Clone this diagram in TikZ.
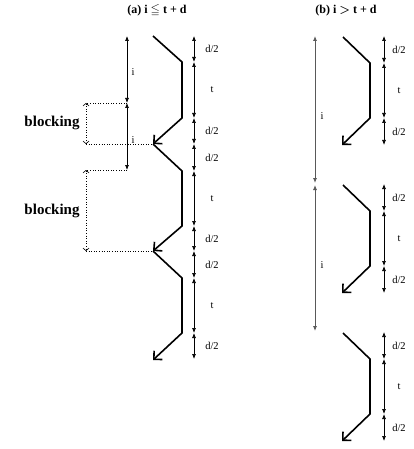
\documentclass[tikz,border=0pt]{standalone}
\usepackage{amsmath,amssymb}
\usepackage{fontspec}
\setmainfont{Liberation Serif}
\usetikzlibrary{arrows.meta}
\begin{document}
\begin{tikzpicture}[x=1pt,y=-1pt,
  zig/.style={line width=1.6pt,line join=miter,-{Straight Barb[length=6pt,width=12pt,line width=1.6pt]}},
  dimline/.style={line width=0.7pt,{Latex[length=5pt,width=4pt]}-{Latex[length=5pt,width=4pt]}},
  ilinea/.style={line width=0.7pt,{Latex[length=5pt,width=4pt]}-{Latex[length=5pt,width=4pt]}},
  ilineb/.style={line width=0.8pt,black!65,{Latex[length=5pt,width=4pt]}-{Latex[length=5pt,width=4pt]}},
  dots/.style={line width=0.6pt,dotted},
  dotarrow/.style={line width=0.6pt,dotted,{Straight Barb[length=2.5pt,width=6pt]}-{Straight Barb[length=2.5pt,width=6pt]}},
  lab/.style={font=\fontsize{10.5}{11}\selectfont,inner sep=0pt},
  block/.style={font=\fontsize{15}{16}\selectfont\bfseries,inner sep=0pt},
  ttl/.style={font=\fontsize{12}{13}\selectfont\bfseries,inner sep=0pt}]
\useasboundingbox (0,0) rectangle (413,449);
% titles
\node[ttl] (ta) at (157,11) {(a) i $\boldsymbol{\leqq}$ t + d};
\node[ttl] (tb) at (346,11) {(b) i $\boldsymbol{>}$ t + d};
% ---------- panel a ----------
\coordinate (a0) at (153,36);
\coordinate (a1) at (182,62);
\coordinate (a2) at (182,118);
\coordinate (a3) at (153,144);
\coordinate (a4) at (182,171);
\coordinate (a5) at (182,226);
\coordinate (a6) at (153,251);
\coordinate (a7) at (182,278);
\coordinate (a8) at (182,333);
\coordinate (a9) at (153,360);
\draw[zig] (a0) -- (a1) -- (a2) -- (a3);
\draw[zig] (a3) -- (a4) -- (a5) -- (a6);
\draw[zig] (a6) -- (a7) -- (a8) -- (a9);
% dimension lines a
\foreach \ya/\yb/\t [count=\k] in {36/62/d\slash 2,62/118/t,118/144/d\slash 2,144/171/d\slash 2,171/226/t,226/251/d\slash 2,251/278/d\slash 2,278/333/t,333/359/d\slash 2}{
  \coordinate (da\k s) at (194,\ya);
  \coordinate (da\k e) at (194,\yb);
  \draw[dimline] (da\k s) -- (da\k e);
  \node[lab] (lda\k) at (212,{(\ya+\yb)/2}) {\t};
}
% i arrows a
\coordinate (ia0) at (127,36);
\coordinate (ia1) at (127,103);
\coordinate (ia2) at (127,170);
\draw[ilinea] (ia0) -- (ia1);
\draw[ilinea] (ia1) -- (ia2);
\node[lab] (lia1) at (133,72) {i};
\node[lab] (lia2) at (133,140) {i};
% blocking 1
\coordinate (b1t) at (86,103);
\coordinate (b1b) at (86,144);
\draw[dots] (ia1) -- (b1t);
\draw[dots] (b1b) -- (a3);
\draw[dotarrow] (b1t) -- (b1b);
\node[block] (bl1) at (52,123) {blocking};
% blocking 2
\coordinate (b2t) at (86,170);
\coordinate (b2b) at (86,251);
\draw[dots] (ia2) -- (b2t);
\draw[dots] (b2b) -- (a6);
\draw[dotarrow] (b2t) -- (b2b);
\node[block] (bl2) at (52,211) {blocking};
% ---------- panel b ----------
\foreach \o [count=\k] in {0,148,296}{
  \coordinate (bz\k0) at (343,37+\o);
  \coordinate (bz\k1) at (370,63+\o);
  \coordinate (bz\k2) at (370,118+\o);
  \coordinate (bz\k3) at (342,145+\o);
  \draw[zig] (bz\k0) -- (bz\k1) -- (bz\k2) -- (bz\k3);
  \coordinate (db\k0) at (384,36+\o);
  \coordinate (db\k1) at (384,63+\o);
  \coordinate (db\k2) at (384,118+\o);
  \coordinate (db\k3) at (384,145+\o);
  \draw[dimline] (db\k0) -- (db\k1);
  \draw[dimline] (db\k1) -- (db\k2);
  \draw[dimline] (db\k2) -- (db\k3);
  \node[lab] (ldb\k a) at (399,49.5+\o) {d/2};
  \node[lab] (ldb\k b) at (399,90.5+\o) {t};
  \node[lab] (ldb\k c) at (399,131.5+\o) {d/2};
}
\coordinate (ib0) at (315,36);
\coordinate (ib1) at (315,183);
\coordinate (ib2) at (315,185);
\coordinate (ib3) at (315,331);
\draw[ilineb] (ib0) -- (ib1);
\draw[ilineb] (ib2) -- (ib3);
\node[lab] (lib1) at (322,116) {i};
\node[lab] (lib2) at (322,265) {i};
\end{tikzpicture}
\end{document}
